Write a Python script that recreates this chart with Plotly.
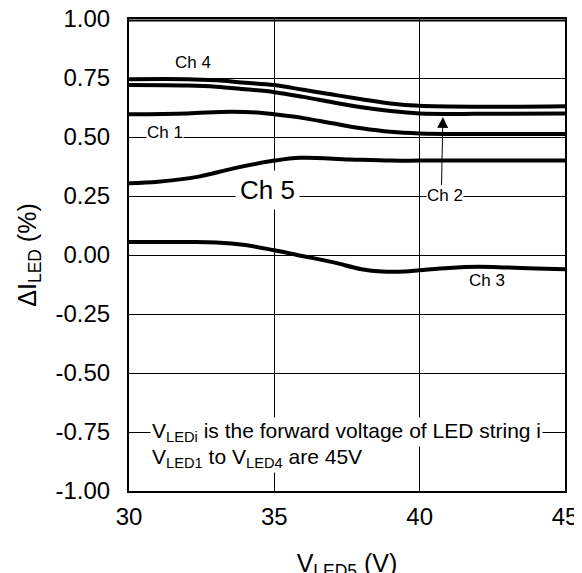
import plotly.graph_objects as go

# V_LED5 (V) sample points
ch4_x = [30, 32, 33, 34, 35, 36, 37, 38, 39, 40, 42, 45]
ch4_y = [0.745, 0.745, 0.740, 0.730, 0.720, 0.700, 0.680, 0.660, 0.642, 0.632, 0.628, 0.630]

ch2_x = [30, 32, 33, 34, 35, 36, 37, 38, 39, 40, 42, 45]
ch2_y = [0.720, 0.718, 0.713, 0.702, 0.690, 0.670, 0.647, 0.626, 0.610, 0.600, 0.598, 0.600]

ch1_x = [30, 32, 33.5, 34.5, 35, 36, 37, 38, 39, 40, 42, 45]
ch1_y = [0.596, 0.600, 0.607, 0.603, 0.596, 0.580, 0.558, 0.537, 0.522, 0.515, 0.513, 0.513]

ch5_x = [30, 31, 32.4, 33.6, 35, 35.9, 37.6, 39, 40, 42, 45]
ch5_y = [0.304, 0.310, 0.332, 0.367, 0.400, 0.412, 0.405, 0.400, 0.400, 0.400, 0.400]

ch3_x = [30, 32, 33, 34, 35, 36, 37, 38, 38.7, 39.5, 40, 41, 42, 43, 44, 45]
ch3_y = [0.055, 0.055, 0.053, 0.042, 0.020, -0.005, -0.030, -0.060, -0.070, -0.070, -0.065, -0.055, -0.050, -0.053, -0.057, -0.060]

x_ticks = [30, 35, 40, 45]
y_ticks = [-1.0, -0.75, -0.5, -0.25, 0.0, 0.25, 0.5, 0.75, 1.0]
y_tick_text = ["-1.00", "-0.75", "-0.50", "-0.25", "0.00", "0.25", "0.50", "0.75", "1.00"]

FONT = "Liberation Sans, Arial, sans-serif"

fig = go.Figure()
for xs, ys, name in [(ch4_x, ch4_y, "Ch 4"), (ch2_x, ch2_y, "Ch 2"), (ch1_x, ch1_y, "Ch 1"),
                     (ch5_x, ch5_y, "Ch 5"), (ch3_x, ch3_y, "Ch 3")]:
    fig.add_trace(go.Scatter(x=xs, y=ys, mode="lines", name=name,
                             line=dict(color="black", width=4, shape="spline", smoothing=1.0),
                             showlegend=False))

small = dict(family=FONT, size=17, color="black")
annos = [
    dict(x=32.2, y=0.814, text="Ch 4", font=small, bgcolor="white"),
    dict(x=31.24, y=0.52, text="Ch 1", font=small, bgcolor="white", borderpad=0),
    dict(x=34.75, y=0.275, text="Ch 5", font=dict(family=FONT, size=26, color="black"),
         bgcolor="white", borderpad=4),
    dict(x=40.87, y=0.254, text="Ch 2", font=small, bgcolor="white", borderpad=0),
    dict(x=42.3, y=-0.11, text="Ch 3", font=small),
    dict(x=30.72, y=-0.75, xanchor="left",
         text="V<sub>LEDi</sub> is the forward voltage of LED string i",
         font=dict(family=FONT, size=21, color="black"), bgcolor="white", borderpad=1),
    dict(x=30.72, y=-0.862, xanchor="left",
         text="V<sub>LED1</sub> to V<sub>LED4</sub> are 45V",
         font=dict(family=FONT, size=21, color="black"), bgcolor="white", borderpad=1),
]
for a in annos:
    a.setdefault("showarrow", False)
    a.update(xref="x", yref="y")
    fig.add_annotation(**a)

fig.add_annotation(x=40.8, y=0.585, ax=40.75, ay=0.29, xref="x", yref="y",
                   axref="x", ayref="y", text="", showarrow=True,
                   arrowhead=2, arrowsize=2.2, arrowwidth=1, arrowcolor="black")

# top frame edge, just inside the plot top
fig.add_shape(type="line", xref="paper", yref="paper", x0=0, x1=1, y0=0.997, y1=0.997,
              line=dict(color="black", width=2), layer="above")

fig.update_layout(
    width=582, height=573,
    margin=dict(l=121, r=25, t=11, b=90),
    plot_bgcolor="white", paper_bgcolor="white",
    font=dict(family=FONT, color="black"),
)
fig.update_xaxes(range=[30, 45], tickvals=x_ticks, showgrid=True, gridcolor="black", gridwidth=1,
                 showline=True, linecolor="black", linewidth=2, mirror=True, zeroline=False,
                 ticks="", tickfont=dict(size=24), ticklabelstandoff=3, automargin=False,
                 ticklabeloverflow="allow",
                 title=dict(text="V<sub>LED5</sub> (V)", font=dict(size=25), standoff=26))
fig.update_yaxes(range=[-1, 1], tickvals=y_ticks, ticktext=y_tick_text, showgrid=True,
                 gridcolor="black", gridwidth=1, showline=True, linecolor="black", linewidth=2,
                 mirror=True, zeroline=False, ticks="", tickfont=dict(size=24), ticklabelstandoff=12,
                 automargin=False, ticklabeloverflow="allow",
                 title=dict(text="ΔI<sub>LED</sub> (%)", font=dict(size=25), standoff=12))

fig.write_html("out.html", config={"displayModeBar": False})
